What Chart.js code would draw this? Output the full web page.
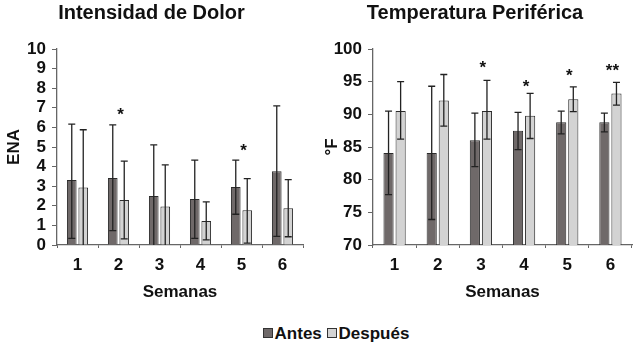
<!DOCTYPE html>
<html>
<head>
<meta charset="utf-8">
<script src="https://cdn.jsdelivr.net/npm/chart.js@4.4.1/dist/chart.umd.min.js"></script>
<style>
  body { margin: 0; background: #fff; }
  #wrap { position: relative; width: 638px; height: 350px; overflow: hidden; font-family: "Liberation Sans", Arial, sans-serif; }
  #dolor { position: absolute; left: 0; top: 0; }
  #temp { position: absolute; left: 318px; top: 0; }
  #legend { position: absolute; left: 0; width: 638px; top: 324px; text-align: center; font-weight: bold; font-size: 17px; color: #111; padding-left: 34px; box-sizing: border-box; }
  .sw { display: inline-block; width: 8px; height: 8px; border: 1px solid #333; margin-right: 2px; vertical-align: 1px; }
</style>
</head>
<body>
<div id="wrap">
  <canvas id="dolor" width="318" height="310"></canvas>
  <canvas id="temp" width="320" height="310"></canvas>
  <div id="legend"><span class="sw" style="background:#6f6969"></span>Antes <span class="sw" style="background:#d3d3d3"></span>Después</div>
</div>
<script>
// weeks
const semanas = ['1', '2', '3', '4', '5', '6'];

// pain intensity (ENA)
const dolorAntes = [3.32, 3.42, 2.50, 2.35, 2.96, 3.76];
const dolorAntesLow = [0.34, 0.73, -0.11, 0.34, 1.57, 0.44];
const dolorAntesHigh = [6.17, 6.13, 5.11, 4.33, 4.33, 7.10];
const dolorDespues = [2.93, 2.30, 1.96, 1.23, 1.77, 1.87];
const dolorDespuesLow = [-0.02, 0.31, -0.17, 0.26, 0.10, 0.42];
const dolorDespuesHigh = [5.88, 4.28, 4.09, 2.20, 3.39, 3.34];
const dolorStars = ['', '*', '', '', '*', ''];
const dolorStarY = [0, 6.9, 0, 0, 5.05, 0];

// peripheral temperature (°F)
const tempAntes = [84.1, 84.1, 86.05, 87.5, 88.8, 88.8];
const tempAntesLow = [77.7, 73.9, 82.0, 84.6, 87.0, 87.3];
const tempAntesHigh = [90.5, 94.3, 90.2, 90.3, 90.5, 90.2];
const tempDespues = [90.5, 92.1, 90.5, 89.8, 92.3, 93.2];
const tempDespuesLow = [86.2, 88.2, 86.2, 86.3, 90.4, 91.4];
const tempDespuesHigh = [95.0, 96.1, 95.2, 93.2, 94.2, 94.9];
const tempStars = ['', '', '*', '*', '*', '**'];
const tempStarY = [0, 0, 97.85, 95.0, 96.6, 97.45];

const FONT = '"Liberation Sans", Arial, sans-serif';

const errorBars = {
  id: 'errorBars',
  afterDatasetsDraw(chart, args, opts) {
    const ctx = chart.ctx;
    const y = chart.scales.y;
    ctx.save();
    ctx.strokeStyle = '#222';
    ctx.lineWidth = 1.3;
    chart.data.datasets.forEach((ds, i) => {
      const meta = chart.getDatasetMeta(i);
      meta.data.forEach((bar, j) => {
        const lo = ds.errLow[j], hi = ds.errHigh[j];
        const yLo = y.getPixelForValue(Math.max(lo, y.min));
        const yHi = y.getPixelForValue(hi);
        const cw = 3.5;
        ctx.beginPath();
        ctx.moveTo(bar.x, yLo);
        ctx.lineTo(bar.x, yHi);
        ctx.moveTo(bar.x - cw, yHi);
        ctx.lineTo(bar.x + cw, yHi);
        if (lo > y.min) {
          ctx.moveTo(bar.x - cw, yLo);
          ctx.lineTo(bar.x + cw, yLo);
        }
        ctx.stroke();
      });
    });
    // significance marks
    ctx.fillStyle = '#111';
    ctx.font = 'bold 17px ' + FONT;
    ctx.textAlign = 'center';
    ctx.textBaseline = 'alphabetic';
    opts.stars.forEach((s, j) => {
      if (!s) return;
      const x = chart.scales.x.getPixelForValue(j) + 2;
      ctx.fillText(s, x, y.getPixelForValue(opts.starY[j]) + 10);
    });
    ctx.restore();
  }
};

function makeChart(id, title, yTitle, min, max, step, yWidth, padRight, a, aLo, aHi, d, dLo, dHi, stars, starY) {
  return new Chart(document.getElementById(id), {
    type: 'bar',
    data: {
      labels: semanas,
      datasets: [
        { label: 'Antes', data: a, errLow: aLo, errHigh: aHi, backgroundColor: '#6f6969', borderColor: '#2b2b2b', borderWidth: 1 },
        { label: 'Después', data: d, errLow: dLo, errHigh: dHi, backgroundColor: '#d3d3d3', borderColor: '#2b2b2b', borderWidth: 1 }
      ]
    },
    options: {
      responsive: false,
      animation: false,
      layout: { padding: { left: 0, right: padRight, top: 0, bottom: 0 } },
      datasets: { bar: { categoryPercentage: 0.56, barPercentage: 0.84 } },
      plugins: {
        legend: { display: false },
        tooltip: { enabled: false },
        title: {
          display: true, text: title, color: '#111',
          font: { family: FONT, size: 20, weight: 'bold' },
          padding: { top: 1, bottom: 24 }
        },
        errorBars: { stars: stars, starY: starY }
      },
      scales: {
        x: {
          afterFit: s => { s.height = 65; },
          grid: { drawOnChartArea: false, drawTicks: true, tickLength: 3, color: '#666' },
          border: { color: '#666', width: 1.3 },
          ticks: { color: '#111', padding: 7, font: { family: FONT, size: 17, weight: 'bold' } },
          title: { display: true, text: 'Semanas', color: '#111', padding: { top: 0, bottom: 7 }, font: { family: FONT, size: 17, weight: 'bold' } }
        },
        y: {
          min: min, max: max,
          afterFit: s => { s.width = yWidth; },
          grid: { drawOnChartArea: false, drawTicks: true, tickLength: 5, color: '#666' },
          border: { color: '#666', width: 1.3 },
          ticks: { stepSize: step, autoSkip: false, color: '#111', padding: 6, font: { family: FONT, size: 17, weight: 'bold' } },
          title: { display: true, text: yTitle, color: '#111', padding: 4, font: { family: FONT, size: 17, weight: 'bold' } }
        }
      }
    },
    plugins: [errorBars]
  });
}

makeChart('dolor', 'Intensidad de Dolor', 'ENA', 0, 10, 1, 57, 15,
  dolorAntes, dolorAntesLow, dolorAntesHigh, dolorDespues, dolorDespuesLow, dolorDespuesHigh, dolorStars, dolorStarY);
makeChart('temp', 'Temperatura Periférica', '°F', 70, 100, 5, 55, 6,
  tempAntes, tempAntesLow, tempAntesHigh, tempDespues, tempDespuesLow, tempDespuesHigh, tempStars, tempStarY);
</script>
</body>
</html>
